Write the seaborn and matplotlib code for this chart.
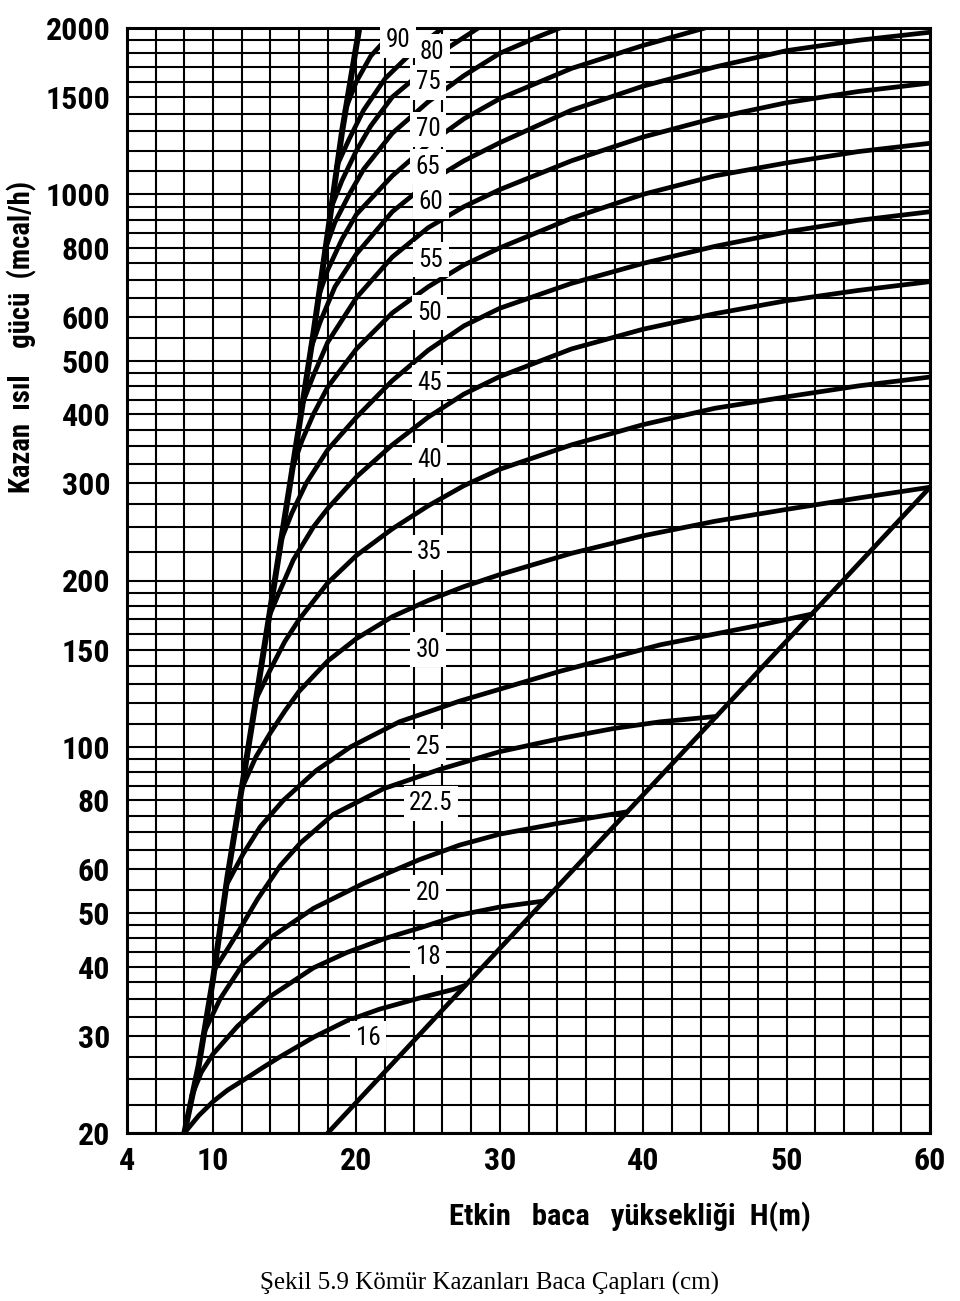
import numpy as np
import pandas as pd
import matplotlib
matplotlib.use("Agg")
import matplotlib.pyplot as plt
from matplotlib.ticker import NullFormatter, FixedLocator
from matplotlib import font_manager as fm
import seaborn as sns

# ---------------- data ----------------
x_ticks = [4, 10, 20, 30, 40, 50, 60]
y_ticks = [20, 30, 40, 50, 60, 80, 100, 150, 200, 300, 400, 500, 600, 800, 1000, 1500, 2000]

boundary_H = [8, 9, 10, 11, 12, 13, 14, 15, 16, 17, 18, 19, 20.2]
boundary_Q = [20, 26.5, 38, 58, 84, 122, 178, 260, 380, 560, 850, 1300, 2000]

diagonal_H = [18, 60]
diagonal_Q = [20, 295]

d16_H = [8, 9, 10, 11, 12.4, 13.5, 14.7, 17, 19.3, 21.6, 24.4, 26.8, 27.6]
d16_Q = [20, 21.5, 22.8, 23.9, 25.2, 26.3, 27.5, 29.8, 31.9, 33.5, 35.1, 36.4, 37]

d18_H = [8.5, 9.2, 10, 11.7, 14.1, 17, 19.3, 22, 24.4, 27.2, 30, 33.1]
d18_Q = [23.3, 25.8, 27.8, 31.2, 35.5, 39.8, 42.4, 45, 47, 49.6, 51.3, 52.6]

d20_H = [9.4, 10.5, 12.1, 14.2, 17, 20.5, 24.4, 27.2, 30, 34.2, 38.9]
d20_Q = [30.5, 35, 40.5, 45.5, 51, 56.6, 62.5, 66.4, 69.5, 72.8, 76.3]

d22_H = [10.1, 11, 11.7, 13.1, 14.7, 16.1, 18.4, 21.9, 25.8, 30, 34.2, 38, 41.2, 45.1]
d22_Q = [39.5, 43, 46, 53, 61, 67, 75.5, 84, 91, 98, 103.5, 108, 111, 113.5]

d25_H = [10.9, 12.1, 13.3, 14.9, 17.2, 19.6, 23, 27.2, 34.2, 41.2, 48.1, 51.8]
d25_Q = [56, 64, 71.7, 80, 90.6, 100, 111, 121, 137, 153, 166, 174]

d30_H = [12, 13, 14, 15, 16, 18, 20, 22.5, 25, 27.5, 30, 35, 40, 45, 50, 55, 60]
d30_Q = [84, 96, 106, 116, 126, 143, 157, 172, 184, 195, 205, 224, 241, 256, 269, 282, 295]

d35_H = [13, 14, 15, 16, 18, 20, 22.5, 25, 27.5, 30, 35, 40, 45, 50, 55, 60]
d35_Q = [122, 138, 155, 170, 198, 222, 248, 273, 297, 318, 352, 383, 410, 430, 450, 467]

d40_H = [13.9, 14.6, 15.6, 17, 18, 20, 22.5, 25, 27.5, 30, 35, 40, 45, 50, 55, 60]
d40_Q = [172, 190, 218, 250, 270, 308, 352, 395, 435, 468, 525, 570, 608, 642, 670, 695]

d45_H = [14.7, 15.5, 16.5, 18, 20, 22.5, 25, 27.5, 30, 35, 40, 45, 50, 55, 60]
d45_Q = [235, 265, 300, 345, 395, 460, 522, 578, 622, 690, 750, 805, 855, 897, 930]

d50_H = [15.5, 16.2, 17, 18, 20, 22.5, 25, 27.5, 30, 35, 40, 45, 50, 55, 60]
d50_Q = [318, 358, 400, 448, 525, 610, 680, 745, 800, 905, 1000, 1080, 1140, 1195, 1237]

d55_H = [16.2, 17, 18, 20, 22.5, 25, 27.5, 30, 35, 40, 45, 50, 55, 60]
d55_Q = [416, 470, 540, 650, 770, 870, 950, 1020, 1150, 1270, 1375, 1465, 1535, 1590]

d60_H = [16.8, 17.5, 18.5, 20, 22.5, 25, 27.5, 30, 35, 40, 45, 50, 55, 60]
d60_Q = [524, 590, 680, 780, 930, 1050, 1150, 1240, 1420, 1570, 1700, 1820, 1900, 1965]

d65_H = [17.3, 18, 19, 20, 22.5, 25, 27.5, 30, 35, 40, 44.3]
d65_Q = [647, 730, 830, 920, 1080, 1230, 1370, 1490, 1690, 1860, 2000]

d70_H = [17.8, 18.5, 19.5, 20.5, 22.5, 25, 27.5, 30, 32.7, 34.2]
d70_Q = [792, 890, 1000, 1110, 1290, 1470, 1640, 1800, 1930, 2000]

d75_H = [18.2, 19, 20, 21, 22.5, 25, 26.5, 28.5]
d75_Q = [940, 1060, 1200, 1330, 1500, 1700, 1850, 2000]

d80_H = [18.6, 19.5, 20.5, 22, 24, 26]
d80_Q = [1120, 1260, 1420, 1620, 1820, 2000]

d90_H = [19.2, 20, 21, 22, 23]
d90_Q = [1417, 1600, 1780, 1900, 2000]

curve_names = ["16", "18", "20", "22.5", "25", "30", "35", "40", "45",
               "50", "55", "60", "65", "70", "75", "80", "90"]
curve_H = [d16_H, d18_H, d20_H, d22_H, d25_H, d30_H, d35_H, d40_H, d45_H,
           d50_H, d55_H, d60_H, d65_H, d70_H, d75_H, d80_H, d90_H]
curve_Q = [d16_Q, d18_Q, d20_Q, d22_Q, d25_Q, d30_Q, d35_Q, d40_Q, d45_Q,
           d50_Q, d55_Q, d60_Q, d65_Q, d70_Q, d75_Q, d80_Q, d90_Q]

# label anchor positions (H, Q) of the diameter labels
label_H = [20.8, 25.0, 25.0, 25.2, 25.0, 25.0, 25.1, 25.1, 25.1,
           25.1, 25.2, 25.2, 25.0, 25.0, 25.0, 25.3, 22.9]
label_Q = [29.7, 41.6, 54.4, 79, 100, 150, 225, 330, 456,
           610, 762, 970, 1122, 1312, 1594, 1810, 1900]

# gridline values (semi-log paper)
grid_Q = (list(np.arange(20, 50, 2.5)) + list(range(50, 100, 5)) + list(range(100, 200, 10))
          + list(range(200, 500, 25)) + list(range(500, 1000, 50)) + list(range(1000, 2001, 100)))
grid_H = list(range(4, 61, 2))

# ---------------- style ----------------
sns.set_theme(style="white")
plt.rcParams["font.family"] = ["DejaVu Sans"]
for k in ["text.color", "axes.labelcolor", "xtick.color", "ytick.color", "axes.edgecolor"]:
    plt.rcParams[k] = "black"

avail = {f.name for f in fm.fontManager.ttflist}
cond_font = None
for cand in ["Liberation Sans Narrow", "Roboto Condensed", "Open Sans Condensed", "Noto Sans Condensed"]:
    if cand in avail:
        cond_font = cand
        break
if cond_font:
    tick_fam = [cond_font, "DejaVu Sans"]
    tick_size = 23
    lab_scale = 1.22
else:
    tick_fam = ["DejaVu Sans"]
    tick_size = 21
    lab_scale = 1.0
stretch = "condensed"

fig = plt.figure(figsize=(9.6, 13.01), dpi=100)
ax = fig.add_axes([127 / 960, 1 - 1133 / 1301, (930 - 127) / 960, (1133 - 28) / 1301])
ax.set_facecolor("white")

ax.set_yscale("log")
ax.set_xlim(4, 60)
ax.set_ylim(20, 2000)

ax.xaxis.set_major_locator(FixedLocator(x_ticks))
ax.xaxis.set_minor_locator(FixedLocator(grid_H))
ax.yaxis.set_major_locator(FixedLocator(y_ticks))
ax.yaxis.set_minor_locator(FixedLocator(grid_Q))
ax.yaxis.set_minor_formatter(NullFormatter())
ax.set_xticklabels([str(v) for v in x_ticks])
ax.set_yticklabels([str(v) for v in y_ticks])
ax.tick_params(which="both", length=0)
ax.tick_params(axis="x", pad=9)
ax.tick_params(axis="y", pad=12)
for lab in ax.get_xticklabels() + ax.get_yticklabels():
    lab.set_fontweight("bold")
    lab.set_family(tick_fam)
    lab.set_fontsize(tick_size)
    lab.set_fontstretch(stretch)
    lab.set_color("black")

ax.grid(which="both", color="black", linewidth=1.5)
ax.set_axisbelow(True)
for s in ax.spines.values():
    s.set_color("black")
    s.set_linewidth(2.2)

# curves
rows = []
for name, hs, qs in zip(curve_names, curve_H, curve_Q):
    for i, (h, q) in enumerate(zip(hs, qs)):
        rows.append({"H": h, "Q": q, "d": name, "i": i})
df = pd.DataFrame(rows)
sns.lineplot(data=df, x="H", y="Q", units="d", estimator=None, sort=False,
             color="black", linewidth=3.4, ax=ax, legend=False, zorder=3)

sns.lineplot(x=boundary_H, y=boundary_Q, sort=False, estimator=None,
             color="black", linewidth=4.3, ax=ax, zorder=3)
sns.lineplot(x=diagonal_H, y=diagonal_Q, sort=False, estimator=None,
             color="black", linewidth=3.4, ax=ax, zorder=3)
for ln in ax.get_lines():
    ln.set_solid_joinstyle("round")
    ln.set_solid_capstyle("round")

ax.set_xlabel("")
ax.set_ylabel("")

for name, h, q in zip(curve_names, label_H, label_Q):
    ax.text(h, q, name, ha="center", va="center", fontsize=18 if cond_font else 17,
            family=tick_fam, fontstretch=stretch, color="black",
            zorder=5, bbox=dict(facecolor="white", edgecolor="none", pad=4))

fig.text(22 / 960, 1 - 337 / 1301, "Kazan  ısıl    gücü  (mcal/h)", rotation=90,
         ha="center", va="center", fontsize=17 * lab_scale, fontweight="bold", fontstretch=stretch,
         family=tick_fam, color="black")
fig.text(630 / 960, 1 - 1217 / 1301, "Etkin   baca   yüksekliği  H(m)",
         ha="center", va="center", fontsize=18 * lab_scale, fontweight="bold", fontstretch=stretch,
         family=tick_fam, color="black")
fig.text(489 / 960, 1 - 1283 / 1301, "Şekil 5.9 Kömür Kazanları Baca Çapları (cm)",
         ha="center", va="center", fontsize=18, family=["Liberation Serif", "DejaVu Serif"],
         color="black")

fig.savefig("out.png", dpi=100, facecolor="white")
